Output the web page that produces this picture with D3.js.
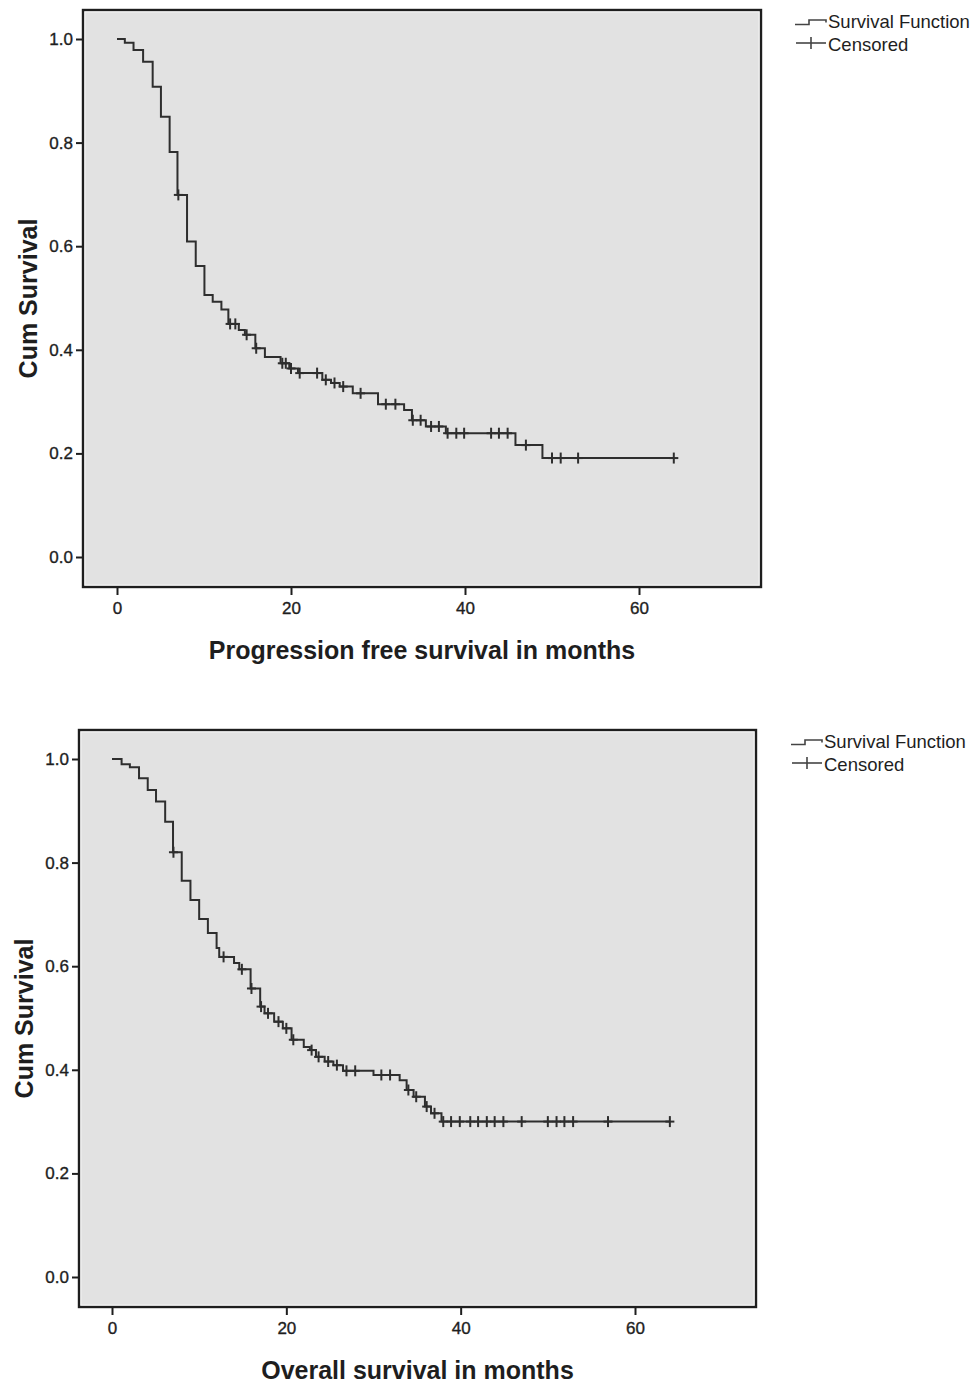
<!DOCTYPE html>
<meta charset="utf-8">
<head>
    <style>
        body { margin: 0; background: #fff; }
        svg text { font-family: "Liberation Sans", Arial, sans-serif; fill: #1e1e1e; }
        .tick line { stroke: #1e1e1e; stroke-width: 2; }
        .tick text { font-size: 17px; stroke: #1e1e1e; stroke-width: 0.35; }
    </style>
    <script src="https://d3js.org/d3.v7.min.js"></script>
</head>
<body>
    <div id="chart"></div>
    <script>
        // progression free survival: [month, survival after the drop]
        var pfsSteps = [
            [0.9, 0.993], [1.9, 0.979], [3.0, 0.956], [4.1, 0.908], [5.05, 0.850],
            [6.05, 0.782], [6.95, 0.699], [8.05, 0.609], [9.05, 0.562], [10.05, 0.506],
            [11.0, 0.493], [12.0, 0.478], [12.8, 0.450], [14.0, 0.438], [14.7, 0.429],
            [15.9, 0.403], [17.0, 0.386], [18.8, 0.374], [19.8, 0.364], [20.8, 0.355],
            [23.6, 0.342], [24.6, 0.336], [25.6, 0.329], [27.1, 0.316], [30.0, 0.295],
            [33.0, 0.284], [33.9, 0.264], [35.5, 0.252], [37.8, 0.239], [45.8, 0.216],
            [48.9, 0.191]
        ];
        var pfsCensored = [7.05, 13.0, 13.6, 14.9, 16.0, 19.0, 19.4, 20.0, 21.0, 23.0, 24.0,
            25.0, 26.0, 28.0, 30.9, 32.0, 34.0, 34.9, 36.1, 37.0, 38.0, 39.0, 39.9, 43.0,
            43.9, 44.9, 47.0, 50.0, 51.0, 53.0, 64.0];

        // overall survival
        var osSteps = [
            [1.1, 0.990], [2.05, 0.984], [3.1, 0.963], [4.1, 0.940], [5.05, 0.918],
            [6.1, 0.879], [7.0, 0.820], [8.0, 0.765], [9.0, 0.728], [10.0, 0.691],
            [11.0, 0.664], [12.0, 0.635], [12.3, 0.618], [14.0, 0.606], [14.6, 0.594],
            [15.9, 0.557], [17.0, 0.522], [17.5, 0.509], [18.6, 0.493], [19.6, 0.480],
            [20.6, 0.458], [22.0, 0.444], [22.7, 0.438], [23.4, 0.425], [24.4, 0.416],
            [25.4, 0.409], [26.5, 0.398], [30.0, 0.390], [33.0, 0.380], [33.8, 0.361],
            [34.6, 0.348], [35.9, 0.329], [36.6, 0.316], [37.8, 0.300]
        ];
        var osCensored = [7.05, 12.8, 14.9, 16.0, 17.1, 17.9, 19.1, 20.0, 20.8, 22.9, 23.7,
            24.8, 25.8, 26.9, 27.9, 30.9, 31.9, 34.0, 34.9, 36.1, 37.0, 38.0, 38.9, 39.9,
            41.1, 42.0, 43.0, 43.9, 44.9, 47.0, 50.0, 51.0, 51.9, 52.9, 56.9, 64.0];

        var xTicks = [0, 20, 40, 60];
        var yTicks = [0, 0.2, 0.4, 0.6, 0.8, 1.0];
        var legendLabels = ["Survival Function", "Censored"];

        var svg = d3.select("#chart")
            .append("svg")
            .attr("width", 975)
            .attr("height", 1384);

        function drawPanel(p, steps, censored, xTitle) {
            var x = d3.scaleLinear().domain([0, 60]).range([p.x0, p.x60]);
            var y = d3.scaleLinear().domain([0, 1]).range([p.y0, p.y1]);
            var g = svg.append("g");

            // frame
            g.append("rect")
                .attr("x", p.left).attr("y", p.top)
                .attr("width", p.right - p.left).attr("height", p.bottom - p.top)
                .attr("fill", "#e2e2e2")
                .attr("stroke", "#1e1e1e").attr("stroke-width", 2.4);
            g.append("rect")
                .attr("x", p.left + 2).attr("y", p.top + 2)
                .attr("width", p.right - p.left - 4).attr("height", p.bottom - p.top - 4)
                .attr("fill", "none")
                .attr("stroke", "#f2f2f2").attr("stroke-width", 1);

            // axes
            g.append("g")
                .attr("transform", "translate(" + (p.left - 1) + ",0)")
                .call(d3.axisLeft(y).tickValues(yTicks).tickFormat(d3.format(".1f")).tickSize(6).tickPadding(3))
                .call(a => a.select(".domain").remove());
            g.append("g")
                .attr("transform", "translate(0," + (p.bottom + 1) + ")")
                .call(d3.axisBottom(x).tickValues(xTicks).tickSize(7).tickPadding(7))
                .call(a => a.select(".domain").remove());

            // survival curve
            var last = censored[censored.length - 1];
            var pts = [[0, 1]].concat(steps).concat([[last, steps[steps.length - 1][1]]]);
            var line = d3.line()
                .x(d => x(d[0]))
                .y(d => y(d[1]))
                .curve(d3.curveStepAfter);
            g.append("path")
                .datum(pts)
                .attr("fill", "none")
                .attr("stroke", "#2e2e2e")
                .attr("stroke-width", 2)
                .attr("d", line);

            // censor marks
            function survAt(t) {
                var s = 1;
                steps.forEach(d => { if (d[0] <= t) s = d[1]; });
                return s;
            }
            var marks = g.selectAll(".cens")
                .data(censored)
                .enter()
                .append("g")
                .attr("class", "cens")
                .attr("transform", d => "translate(" + x(d) + "," + y(survAt(d)) + ")");
            marks.append("line").attr("x1", -4.5).attr("x2", 4.5)
                .attr("stroke", "#2e2e2e").attr("stroke-width", 2);
            marks.append("line").attr("y1", -5.5).attr("y2", 5.5)
                .attr("stroke", "#2e2e2e").attr("stroke-width", 2);

            // axis titles
            g.append("text")
                .attr("x", (p.left + p.right) / 2)
                .attr("y", p.bottom + 72)
                .attr("text-anchor", "middle")
                .style("font-size", "25px")
                .style("font-weight", "bold")
                .text(xTitle);
            g.append("text")
                .attr("transform", "translate(" + (p.left - 46) + "," + ((p.top + p.bottom) / 2) + ") rotate(-90)")
                .attr("text-anchor", "middle")
                .style("font-size", "25px")
                .style("font-weight", "bold")
                .text("Cum Survival");

            // legend
            var lg = g.append("g").attr("transform", "translate(" + p.legX + "," + p.legY + ")");
            lg.append("path")
                .attr("d", "M0,3.5H14V-1H31V1.5")
                .attr("fill", "none").attr("stroke", "#444").attr("stroke-width", 1.6);
            lg.append("line").attr("x1", 1).attr("x2", 31).attr("y1", 22).attr("y2", 22)
                .attr("stroke", "#444").attr("stroke-width", 1.6);
            lg.append("line").attr("x1", 16).attr("x2", 16).attr("y1", 16).attr("y2", 28)
                .attr("stroke", "#444").attr("stroke-width", 1.6);
            lg.selectAll(".leg")
                .data(legendLabels)
                .enter()
                .append("text")
                .attr("x", 33)
                .attr("y", (d, i) => 7 + i * 23)
                .style("font-size", "18.5px")
                .text(d => d);
        }

        drawPanel({ left: 83, right: 761, top: 10, bottom: 587, x0: 117, x60: 639, y0: 557, y1: 39, legX: 795, legY: 21 },
            pfsSteps, pfsCensored, "Progression free survival in months");
        drawPanel({ left: 79, right: 756, top: 730, bottom: 1307, x0: 112, x60: 635, y0: 1277, y1: 759, legX: 791, legY: 741 },
            osSteps, osCensored, "Overall survival in months");
    </script>
</body>
